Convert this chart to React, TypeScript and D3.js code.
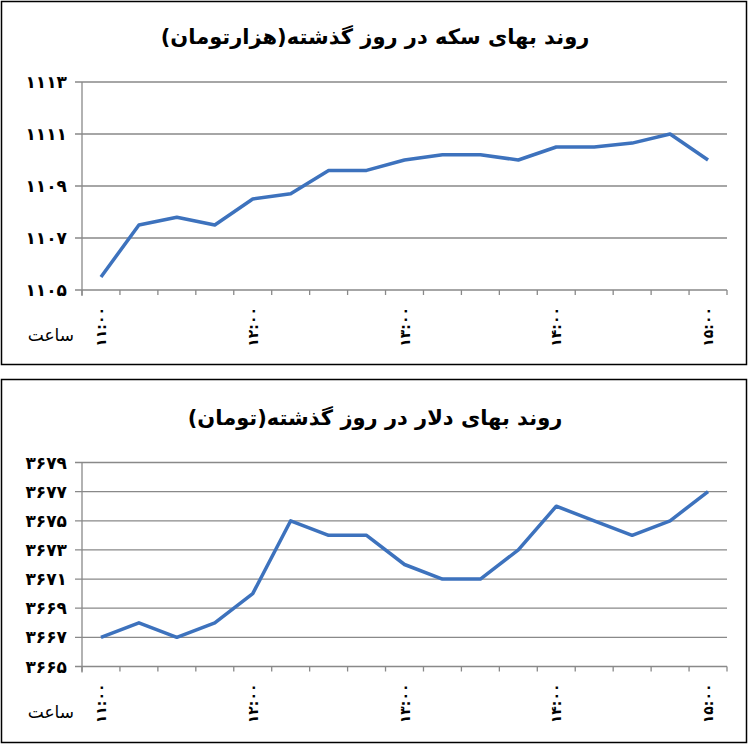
import React from "react";
import * as d3 from "d3";

const hours = ["۱۱:۰۰", "", "", "", "۱۲:۰۰", "", "", "", "۱۳:۰۰", "", "", "", "۱۴:۰۰", "", "", "", "۱۵:۰۰"];
const coinValues = [1105.5, 1107.5, 1107.8, 1107.5, 1108.5, 1108.7, 1109.6, 1109.6, 1110, 1110.2, 1110.2, 1110, 1110.5, 1110.5, 1110.65, 1111, 1110];
const dollarValues = [3667, 3668, 3667, 3668, 3670, 3675, 3674, 3674, 3672, 3671, 3671, 3673, 3676, 3675, 3674, 3675, 3677];
const coinTicks = [1105, 1107, 1109, 1111, 1113];
const dollarTicks = [3665, 3667, 3669, 3671, 3673, 3675, 3677, 3679];
const coinTitle = "روند بهای سکه در روز گذشته(هزارتومان)";
const dollarTitle = "روند بهای دلار در روز گذشته(تومان)";
const xAxisName = "ساعت";

const toFa = (n: number) => String(n).replace(/\d/g, (d) => "۰۱۲۳۴۵۶۷۸۹"[+d]);

const FONT = "'DejaVu Sans', sans-serif";
const GRID = "#898989";
const LINE = "#3d72bd";

function Chart({ y0, boxH, title, values, ticks, top, bottom }: any) {
  const left = 82, right = 727;
  const x = d3.scaleBand<number>().domain(d3.range(values.length)).range([left, right]);
  const y = d3.scaleLinear().domain([ticks[0], ticks[ticks.length - 1]]).range([bottom, top]);
  const line = d3.line<number>().x((_, i) => (x(i) as number) + x.bandwidth() / 2).y((d) => y(d));
  const bounds = d3.range(values.length + 1).map((i) => left + i * x.step());
  return (
    <g>
      <rect x={1.5} y={y0 + 1.5} width={745} height={boxH} fill="#fff" stroke="#000" strokeWidth={1.5} />
      <text x={375} y={top - 38} textAnchor="middle" fontFamily={FONT} fontWeight="bold" fontSize={21}>{title}</text>
      {ticks.map((t: number) => (
        <g key={t}>
          <line x1={left - 7} x2={right} y1={y(t)} y2={y(t)} stroke={GRID} strokeWidth={1.3} />
          <text x={67} y={y(t) + 6} textAnchor="end" fontFamily={FONT} fontWeight="bold" fontSize={17} letterSpacing={5}>{toFa(t)}</text>
        </g>
      ))}
      <line x1={left} x2={left} y1={top} y2={bottom + 6} stroke={GRID} strokeWidth={1.3} />
      {bounds.map((b, i) => (
        <line key={i} x1={b} x2={b} y1={bottom} y2={bottom + 5} stroke={GRID} strokeWidth={1.3} />
      ))}
      <path d={line(values) as string} fill="none" stroke={LINE} strokeWidth={3.5} strokeLinejoin="round" />
      {hours.map((h, i) => h ? (
        <text key={i} transform={`translate(${(x(i) as number) + x.bandwidth() / 2 + 5},${bottom + 17}) rotate(-90)`} textAnchor="end" fontFamily={FONT} fontWeight="bold" fontSize={14} letterSpacing={3}>{h}</text>
      ) : null)}
      <text x={74} y={bottom + 51} textAnchor="end" fontFamily={FONT} fontSize={17}>{xAxisName}</text>
    </g>
  );
}

export default function App() {
  return (
    <svg width={750} height={745} style={{ position: "absolute", left: 0, top: 0 }}>
      <rect width={750} height={745} fill="#fff" />
      <Chart y0={0} boxH={363} title={coinTitle} values={coinValues} ticks={coinTicks} top={82} bottom={290} />
      <Chart y0={378} boxH={363} title={dollarTitle} values={dollarValues} ticks={dollarTicks} top={462.5} bottom={666.5} />
    </svg>
  );
}
